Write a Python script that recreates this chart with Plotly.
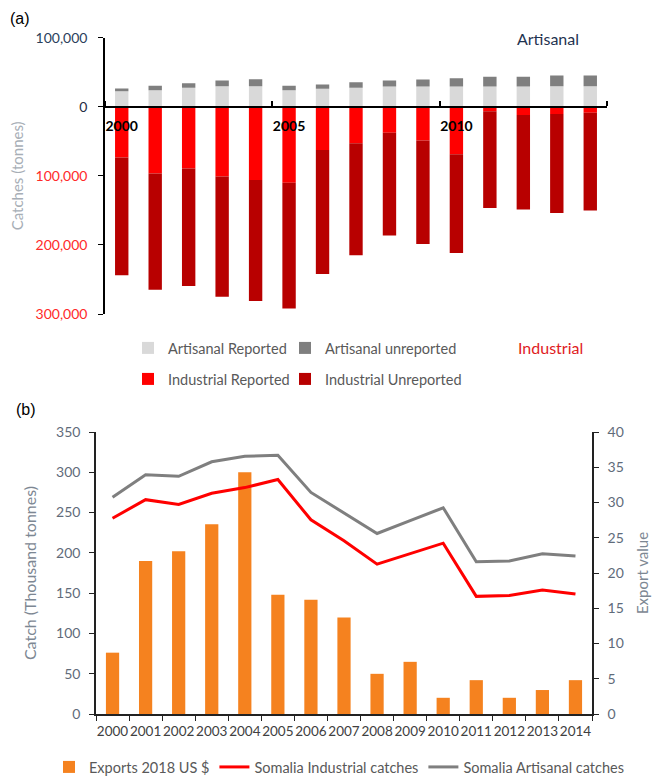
import plotly.graph_objects as go

years = list(range(2000, 2015))

# Panel (a): catches in tonnes
art_reported = [22600, 24000, 27400, 29800, 29800, 24000, 26000, 27400, 29300, 29300, 29300, 29300, 29300, 29800, 29800]
art_unreported = [3800, 6300, 6700, 8200, 10100, 6300, 6200, 8200, 8700, 10100, 12000, 14000, 14000, 15400, 15400]
ind_reported = [73600, 96600, 89400, 101000, 106000, 110000, 62500, 52900, 37500, 49000, 68800, 6300, 12000, 10600, 8700]
ind_unreported = [170400, 168400, 170200, 174000, 175000, 182000, 179500, 162100, 149000, 149600, 142800, 140300, 136600, 143300, 141300]

# Panel (b)
exports_value = [8.7, 21.7, 23.1, 26.9, 34.3, 16.9, 16.2, 13.7, 5.7, 7.4, 2.3, 4.8, 2.3, 3.4, 4.8]
industrial_catch = [243, 266, 260, 274, 281, 291, 241, 215, 186, 199, 212, 146, 147, 154, 149]
artisanal_catch = [269, 297, 295, 313, 320, 321, 275, 250, 224, 240, 256, 189, 190, 199, 196]

top_ticks = [100000, 0, -100000, -200000, -300000]
top_ticktext = ["<span style='color:#2b3f5c'>100,000</span>", "<span style='color:#1f2d44'>0</span>",
                "100,000", "200,000", "300,000"]
top_xticks = [2000, 2005, 2010]

# The page body adds an 8 px offset, so the figure is sized to fit the window.
W, H, OFF = 660, 778, 8
FW, FH = W - OFF, H - OFF
FONT = "Lato"

def px_x(p):
    return max(0.0, (p - OFF) / FW)

def px_y(p):
    return 1 - (p - OFF) / FH

fig = go.Figure()
fig.add_bar(x=years, y=art_reported, name="Artisanal Reported", marker_color="#d9d9d9",
            marker_line_width=0, xaxis="x", yaxis="y", legend="legend")
fig.add_bar(x=years, y=art_unreported, name="Artisanal unreported", marker_color="#7f7f7f",
            marker_line_width=0, xaxis="x", yaxis="y", legend="legend2")
fig.add_bar(x=years, y=[-v for v in ind_reported], name="Industrial Reported", marker_color="#ff0000",
            marker_line_width=0, xaxis="x", yaxis="y", legend="legend3")
fig.add_bar(x=years, y=[-v for v in ind_unreported], name="Industrial Unreported", marker_color="#b80000",
            marker_line_width=0, xaxis="x", yaxis="y", legend="legend4")

fig.add_bar(x=years, y=exports_value, name="Exports 2018 US $", marker_color="#f5821f",
            marker_line_width=0, xaxis="x2", yaxis="y3", legend="legend5")
fig.add_scatter(x=years, y=industrial_catch, mode="lines", name="Somalia Industrial catches",
                line=dict(color="#ff0000", width=3), xaxis="x2", yaxis="y4", legend="legend5")
fig.add_scatter(x=years, y=artisanal_catch, mode="lines", name="Somalia Artisanal catches",
                line=dict(color="#7f7f7f", width=3), xaxis="x2", yaxis="y4", legend="legend5")

top_dom = [px_y(314), px_y(37.7)]
zero_pos = top_dom[0] + (top_dom[1] - top_dom[0]) * 0.75

tick_col = "#5f6b7a"
leg_font = dict(family=FONT, size=14.5, color="#595959")

def leg(xp, yp):
    return dict(orientation="h", x=px_x(xp), xanchor="left", y=px_y(yp), yanchor="middle",
                font=leg_font, itemwidth=30, bgcolor="rgba(0,0,0,0)", traceorder="normal")

fig.update_layout(
    width=FW, height=FH,
    margin=dict(l=0, r=0, t=0, b=0, autoexpand=False),
    paper_bgcolor="white", plot_bgcolor="white",
    barmode="relative", bargap=0.6,
    font=dict(family=FONT),
    xaxis=dict(domain=[px_x(105), px_x(607)], range=[1999.5, 2014.5], anchor="free", position=zero_pos,
               tickmode="array", tickvals=top_xticks, ticktext=[str(v) for v in top_xticks], ticks="",
               tickfont=dict(family=FONT, size=14, color="black", weight="bold"), ticklabelstandoff=6,
               showline=True, linecolor="black", linewidth=2, showgrid=False, zeroline=False,
               minor=dict(tickmode="array", tickvals=[1999.5, 2004.5, 2009.5, 2014.5], ticks="inside",
                          ticklen=5, tickwidth=2, tickcolor="black", showgrid=False)),
    yaxis=dict(domain=top_dom, range=[-300000, 100000], anchor="x",
               tickmode="array", tickvals=top_ticks, ticktext=top_ticktext,
               tickfont=dict(family=FONT, size=14, color="#ff2a2a"),
               ticks="outside", ticklen=5, tickcolor="black", ticklabelstandoff=8,
               showline=True, linecolor="black", linewidth=1.5, showgrid=False, zeroline=False,
               title=dict(text="Catches (tonnes)", font=dict(family=FONT, size=15, color="#a7aeb6"), standoff=8)),
    xaxis2=dict(domain=[px_x(96), px_x(592)], type="category", anchor="y3",
                tickson="boundaries", ticks="outside", ticklen=5, tickcolor="#222", tickangle=0,
                tickfont=dict(family=FONT, size=13.5, color="#404040"), ticklabelstandoff=4,
                showline=True, linecolor="#222", linewidth=1.5, showgrid=False, zeroline=False),
    yaxis3=dict(domain=[px_y(714), px_y(432)], range=[0, 40], dtick=5, side="right", anchor="x2",
                ticks="outside", ticklen=5, tickcolor="#222", ticklabelstandoff=6,
                tickfont=dict(family=FONT, size=14, color=tick_col),
                showline=True, linecolor="#222", linewidth=1.5, showgrid=False, zeroline=False,
                title=dict(text="Export value", font=dict(family=FONT, size=15, color="#7d8793"))),
    yaxis4=dict(range=[0, 350], dtick=50, side="left", anchor="x2", overlaying="y3",
                ticks="outside", ticklen=5, tickcolor="#222", ticklabelstandoff=6,
                tickfont=dict(family=FONT, size=14, color=tick_col),
                showline=True, linecolor="#222", linewidth=1.5, showgrid=False, zeroline=False,
                title=dict(text="Catch (Thousand tonnes)", font=dict(family=FONT, size=16, color="#7d8793"))),
    legend=leg(128, 348),
    legend2=leg(285, 348),
    legend3=leg(128, 379),
    legend4=leg(285, 379),
    legend5=leg(49, 767),
    showlegend=True,
)

annotations = [
    dict(text="(a)", x=px_x(5), y=px_y(18), xanchor="left", yanchor="middle",
         font=dict(family="Liberation Sans", size=16, color="black")),
    dict(text="(b)", x=px_x(14), y=px_y(410), xanchor="left", yanchor="middle",
         font=dict(family="Liberation Sans", size=16, color="black")),
    dict(text="Artisanal", x=px_x(548), y=px_y(39), xanchor="center", yanchor="middle",
         font=dict(family=FONT, size=16, color="#1f3350")),
    dict(text="Industrial", x=px_x(550), y=px_y(347), xanchor="center", yanchor="middle",
         font=dict(family=FONT, size=16, color="#e0201e")),
]
for a in annotations:
    a.update(xref="paper", yref="paper", showarrow=False)
fig.update_layout(annotations=annotations)

fig.write_html("out.html")
